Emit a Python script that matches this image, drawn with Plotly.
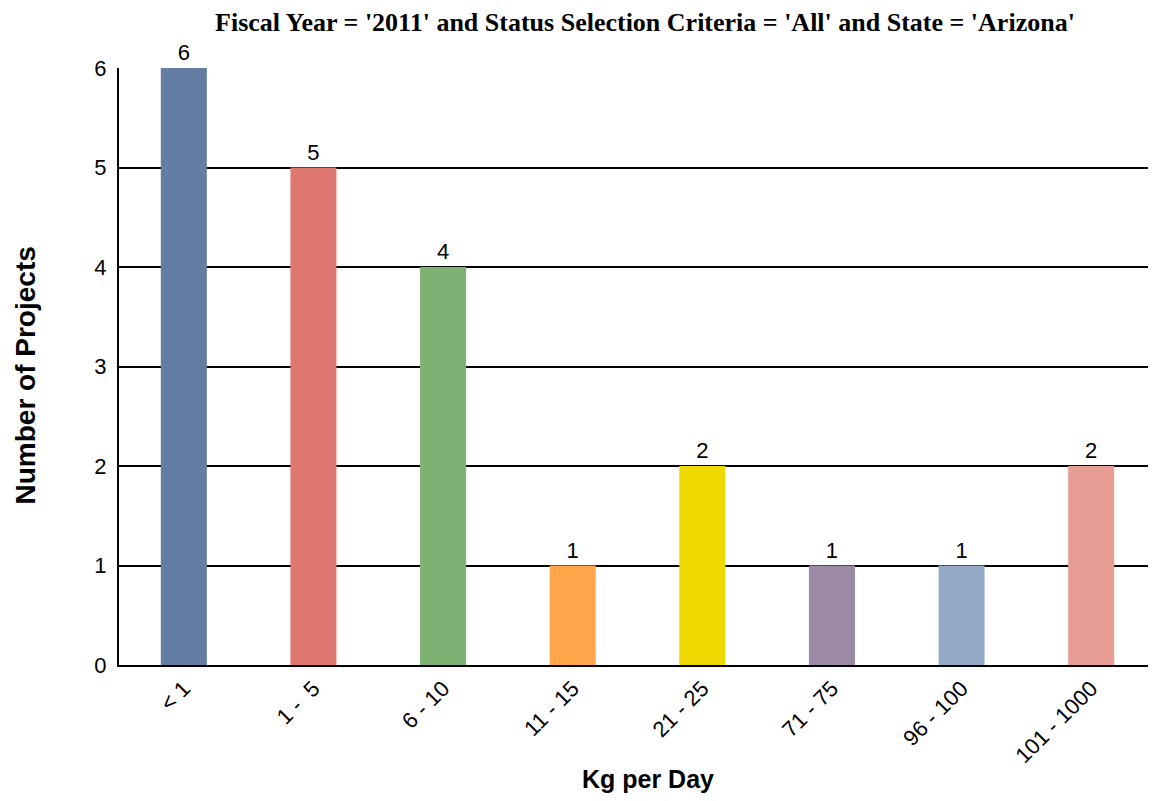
import plotly.graph_objects as go

categories = ["< 1", "1 -  5", "6 - 10", "11 - 15", "21 - 25", "71 - 75", "96 - 100", "101 - 1000"]
projects = [6, 5, 4, 1, 2, 1, 1, 2]
bar_colors = ["#647DA3", "#E07872", "#7DB272", "#FFA54A", "#EED800", "#9D8AA6", "#94AAC8", "#E79D94"]
y_ticks = [0, 1, 2, 3, 4, 5, 6]

SANS = "Liberation Sans, Arial"
SERIF = "Liberation Serif, Times New Roman"

fig = go.Figure()
fig.add_trace(go.Bar(
    x=categories, y=projects,
    marker=dict(color=bar_colors, line=dict(width=0)),
    width=0.355,
    text=[str(v) for v in projects],
    textposition="outside",
    textfont=dict(family=SANS, size=22, color="black"),
    cliponaxis=False,
))

fig.update_layout(
    width=1156, height=801,
    margin=dict(l=111, r=8, t=60, b=144),
    plot_bgcolor="white", paper_bgcolor="white",
    showlegend=False,
    title=dict(
        text="<b>Fiscal Year = '2011' and Status Selection Criteria = 'All' and State = 'Arizona'</b>",
        x=0.551, xanchor="center", y=0.994, yanchor="top", pad=dict(t=0),
        font=dict(family=SERIF, size=26, color="black"),
    ),
    xaxis=dict(
        showline=True, linecolor="black", linewidth=2,
        tickangle=-45, ticks="",
        tickfont=dict(family=SANS, size=22, color="black"),
    ),
    yaxis=dict(
        range=[0, 6], tickvals=y_ticks,
        showline=True, linecolor="black", linewidth=2,
        showgrid=True, gridcolor="black", gridwidth=2,
        zeroline=False, ticks="outside", ticklen=6, tickcolor="white",
        tickfont=dict(family=SANS, size=22, color="black"),
    ),
    annotations=[
        dict(text="<b>Kg per Day</b>", xref="paper", yref="paper",
             x=0.51, y=-0.191, xanchor="center", yanchor="middle",
             showarrow=False, font=dict(family=SANS, size=25, color="black")),
        dict(text="<b>Number of Projects</b>", xref="paper", yref="paper",
             x=-0.0906, y=0.485, xanchor="center", yanchor="middle", textangle=-90,
             showarrow=False, font=dict(family=SANS, size=28, color="black")),
    ],
)

fig.write_html("out.html")
